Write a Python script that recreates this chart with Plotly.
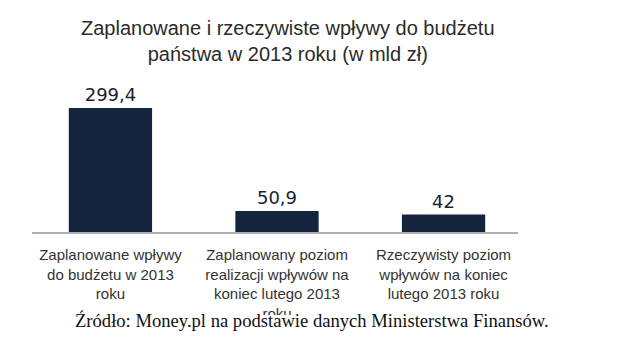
import plotly.graph_objects as go

categories = ["Zaplanowane wpływy<br>do budżetu w 2013<br>roku",
              "Zaplanowany poziom<br>realizacji wpływów na<br>koniec lutego 2013<br>roku",
              "Rzeczywisty poziom<br>wpływów na koniec<br>lutego 2013 roku"]
values = [299.4, 50.9, 42]
value_labels = ["299,4", "50,9", "42"]
title_text = "Zaplanowane i rzeczywiste wpływy do budżetu<br>państwa w 2013 roku (w mld zł)"
source_text = "Źródło: Money.pl na podstawie danych Ministerstwa Finansów."

W, H = 622, 346
L, R, T, B = 32, 104, 70, 114
pw, ph = W - L - R, H - T - B

def px_to_py(p):
    return (H - B - p) / ph

def px_to_px(p):
    return (p - L) / pw

fig = go.Figure(go.Bar(
    x=[0, 1, 2], y=values, width=0.5,
    marker=dict(color="#14243d", line=dict(width=0)),
    text=value_labels, textposition="outside",
    textfont=dict(family="DejaVu Sans", size=18, color="#1c2230"),
    cliponaxis=False,
))

fig.update_layout(
    width=W, height=H, margin=dict(l=L, r=R, t=T, b=B),
    paper_bgcolor="white", plot_bgcolor="white",
    showlegend=False,
    xaxis=dict(range=[-0.471, 2.447], tickmode="array", tickvals=[0, 1, 2],
               ticktext=categories, showgrid=False, zeroline=False,
               showline=True, linecolor="#b0b0b0", linewidth=2, ticks="",
               ticklabelstandoff=8,
               tickfont=dict(family="Liberation Sans", size=15, color="#333333"),
               fixedrange=True),
    yaxis=dict(range=[0, 391.2], visible=False, fixedrange=True),
    annotations=[
        dict(text=title_text, xref="paper", yref="paper",
             x=px_to_px(288), y=px_to_py(40.5), xanchor="center", yanchor="middle",
             showarrow=False, align="center",
             font=dict(family="Liberation Sans", size=20, color="#2b2b2b")),
        dict(text=source_text, xref="paper", yref="paper",
             x=px_to_px(311.5), y=px_to_py(320), xanchor="center", yanchor="middle",
             showarrow=False,
             font=dict(family="Liberation Serif", size=18.6, color="#111111")),
    ],
    shapes=[
        dict(type="rect", xref="paper", yref="paper", layer="above",
             x0=-0.2, x1=1.3, y0=px_to_py(346), y1=px_to_py(315),
             fillcolor="white", line=dict(width=0)),
    ],
)

fig.write_html("out.html")
